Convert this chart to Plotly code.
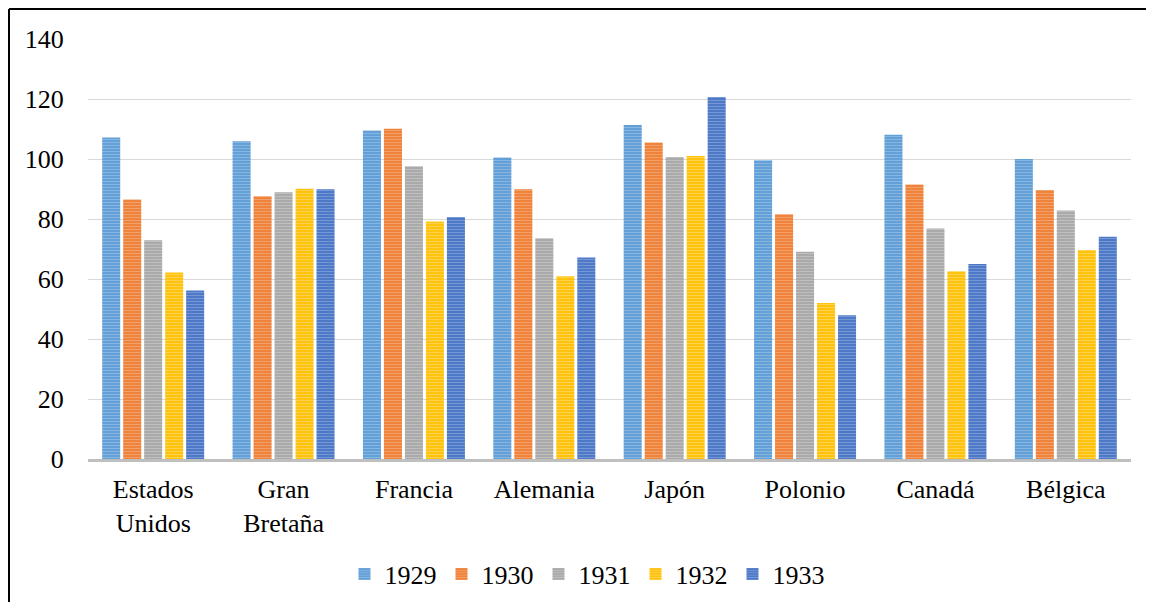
import plotly.graph_objects as go

categories = ["Estados<br>Unidos", "Gran<br>Bretaña", "Francia", "Alemania", "Japón", "Polonio", "Canadá", "Bélgica"]
years = ["1929", "1930", "1931", "1932", "1933"]
v1929 = [107.2, 105.9, 109.5, 100.5, 111.3, 99.6, 108.1, 100.0]
v1930 = [86.5, 87.6, 110.1, 89.9, 105.5, 81.6, 91.5, 89.7]
v1931 = [72.9, 88.9, 97.6, 73.6, 100.7, 69.1, 76.8, 82.8]
v1932 = [62.2, 90.1, 79.2, 60.9, 101.0, 52.0, 62.6, 69.7]
v1933 = [56.2, 89.9, 80.7, 67.2, 120.7, 47.9, 65.0, 74.1]
series = [v1929, v1930, v1931, v1932, v1933]
colors = ["#5B9BD5", "#ED7D31", "#A5A5A5", "#FFC000", "#4472C4"]
stripes = ["#B3D1EE", "#F8C3A0", "#DADADA", "#FFE39A", "#A6BCE6"]

fig = go.Figure()
for name, vals, c, s in zip(years, series, colors, stripes):
    fig.add_trace(go.Bar(
        x=categories, y=vals, name=name,
        marker=dict(color=c, line=dict(width=0),
                    pattern=dict(shape="-", bgcolor=c, fgcolor=s, size=3, solidity=0.45, fillmode="overlay")),
    ))

OFF = 8  # default page body margin
FW, FH = 1154 - 2 * OFF, 610 - 2 * OFF
L, R, T, B = 88 - OFF, 1131 - OFF, 39 - OFF, 459 - OFF
W, H = R - L, B - T

border_x = (1 - L) / W
border_top = (B - 1) / H
fig.update_layout(
    width=FW, height=FH,
    margin=dict(l=L, r=FW - R, t=T, b=FH - B),
    paper_bgcolor="white", plot_bgcolor="white",
    barmode="group", bargap=0.195, bargroupgap=0.14,
    font=dict(family="Liberation Serif", size=26, color="black"),
    showlegend=True,
    legend=dict(orientation="h", xref="paper", x=(587 - OFF - L) / W, xanchor="center",
                yref="container", y=(FH - (574 - OFF)) / FH, yanchor="middle",
                font=dict(family="Liberation Serif", size=26), itemwidth=30, traceorder="normal"),
    xaxis=dict(showgrid=False, showline=True, linecolor="#BFBFBF", linewidth=3,
               ticks="outside", ticklen=5, tickcolor="rgba(0,0,0,0)",
               tickfont=dict(family="Liberation Serif", size=26), automargin=False),
    yaxis=dict(range=[0, 140], dtick=20, showgrid=True, gridcolor="#D9D9D9", gridwidth=1,
               zeroline=False, showline=False, ticks="outside", ticklen=18, tickcolor="rgba(0,0,0,0)",
               tickfont=dict(family="Liberation Serif", size=26), automargin=False),
    shapes=[
        dict(type="line", xref="paper", yref="paper", x0=border_x, x1=border_x,
             y0=(B - FH) / H, y1=border_top, line=dict(color="black", width=2), layer="above"),
        dict(type="line", xref="paper", yref="paper", x0=border_x, x1=(FW - L) / W,
             y0=border_top, y1=border_top, line=dict(color="black", width=2), layer="above"),
    ],
)

fig.write_html("out.html")
